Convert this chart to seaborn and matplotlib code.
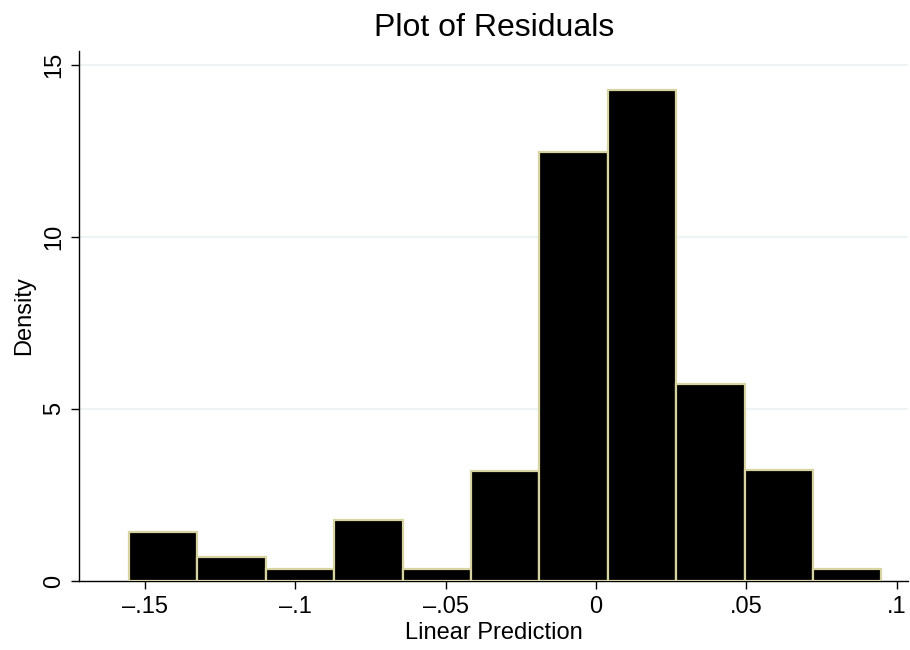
import numpy as np
import matplotlib
matplotlib.use("Agg")
import matplotlib.pyplot as plt
import seaborn as sns

# Data
bin_edges = [-0.1553, -0.1326, -0.1098, -0.0871, -0.0643, -0.0416, -0.0189,
             0.0039, 0.0266, 0.0494, 0.0721, 0.0948]
densities = [1.42, 0.70, 0.35, 1.77, 0.35, 3.20, 12.47, 14.27, 5.73, 3.23, 0.35]
x_ticks = [-0.15, -0.10, -0.05, 0.0, 0.05, 0.10]
x_tick_labels = ["\u2013.15", "\u2013.1", "\u2013.05", "0", ".05", ".1"]
y_ticks = [0, 5, 10, 15]

sns.set_theme(style="white")
plt.rcParams['font.family'] = ['Liberation Sans', 'DejaVu Sans']
plt.rcParams['text.color'] = 'black'
plt.rcParams['axes.labelcolor'] = 'black'
plt.rcParams['xtick.color'] = 'black'
plt.rcParams['ytick.color'] = 'black'

fig = plt.figure(figsize=(9.1, 6.5), dpi=100)
ax = fig.add_axes([79/910, 1 - 581/650, (908 - 79)/910, (581 - 51)/650])

centers = [(bin_edges[i] + bin_edges[i + 1]) / 2 for i in range(len(densities))]
sns.histplot(x=centers, weights=densities, bins=bin_edges, stat="count",
             color="black", edgecolor="#d8d4a2", linewidth=1.6, alpha=1,
             ax=ax, zorder=3)

ax.set_xlim(-0.1719, 0.1037)
ax.set_ylim(0, 15.4)
ax.set_xticks(x_ticks)
ax.set_xticklabels(x_tick_labels, fontsize=17)
ax.set_yticks(y_ticks)
ax.set_yticklabels([str(v) for v in y_ticks], fontsize=17, rotation=90, va="center")
for v in y_ticks[1:]:
    ax.axhline(v, color="#eaf2f3", linewidth=1.2, zorder=0)

ax.tick_params(axis="x", direction="out", length=6, width=1, bottom=True, pad=5)
ax.tick_params(axis="y", direction="out", length=6, width=1, left=True, pad=4)
for s in ["top", "right"]:
    ax.spines[s].set_visible(False)
for s in ["left", "bottom"]:
    ax.spines[s].set_color("black")
    ax.spines[s].set_linewidth(1)

ax.set_xlabel("Linear Prediction", fontsize=17, labelpad=3)
ax.set_ylabel("Density", fontsize=17, labelpad=6)
fig.text(494/910, 1 - 36/650, "Plot of Residuals", fontsize=23,
         ha="center", va="baseline")

fig.savefig("out.png", dpi=100, facecolor="white")
